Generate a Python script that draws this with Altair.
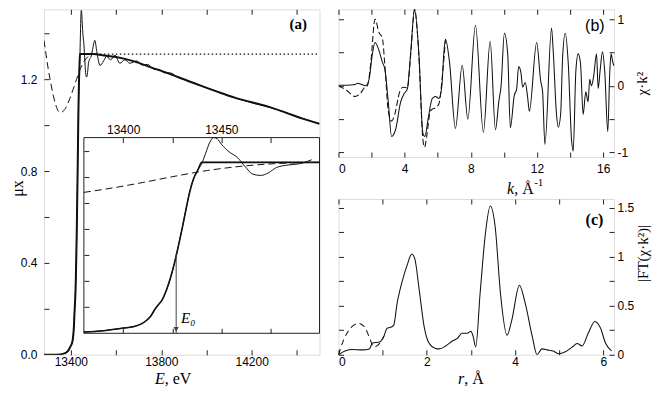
import altair as alt
import pandas as pd

# ---------------- panel (a): absorption mu*x ----------------
E_MU = [13281, 13300, 13330, 13350, 13365, 13380, 13390, 13400, 13405, 13409,
        13412, 13414, 13416, 13418, 13420, 13422, 13424, 13426, 13428, 13430,
        13432, 13434, 13436, 13438, 13440, 13442, 13444, 13446, 13448, 13450,
        13454, 13458, 13462, 13466, 13470, 13474, 13478, 13484, 13490, 13496,
        13506, 13515, 13529, 13545, 13558, 13576, 13595, 13617, 13639, 13661,
        13691, 13715, 13740, 13765, 13790, 13815, 13840, 13870, 13900, 13950,
        14000, 14050, 14100, 14150, 14200, 14250, 14300, 14350, 14400, 14450, 14500]
MU = [0.0, 0.0, 0.0, 0.001, 0.004, 0.01, 0.02, 0.04, 0.05, 0.07,
      0.10, 0.13, 0.18, 0.22, 0.26, 0.33, 0.42, 0.53, 0.66, 0.80,
      0.95, 1.09, 1.19, 1.25, 1.30, 1.38, 1.46, 1.50, 1.49, 1.45,
      1.39, 1.35, 1.28, 1.22, 1.21, 1.23, 1.27, 1.29, 1.30, 1.33,
      1.37, 1.32, 1.26, 1.28, 1.30, 1.285, 1.305, 1.27, 1.285, 1.27,
      1.28, 1.262, 1.265, 1.245, 1.243, 1.228, 1.228, 1.21, 1.20, 1.183,
      1.163, 1.146, 1.128, 1.112, 1.098, 1.086, 1.072, 1.056, 1.038, 1.022, 1.006]
E_MU0 = [13440, 13500, 13540, 13600, 13680, 13760, 13834, 13900, 13980, 14050,
         14125, 14200, 14276, 14350, 14421, 14500]
MU0 = [1.31, 1.31, 1.305, 1.297, 1.278, 1.25, 1.225, 1.200, 1.170, 1.145,
       1.120, 1.100, 1.080, 1.055, 1.030, 1.006]
E_BKG = [13281, 13290, 13300, 13310, 13320, 13330, 13340, 13352, 13365, 13380,
         13395, 13410, 13425, 13443, 13460, 13477, 13498, 13520]
BKG = [1.37, 1.31, 1.245, 1.19, 1.14, 1.10, 1.07, 1.055, 1.06, 1.08,
       1.115, 1.156, 1.20, 1.248, 1.28, 1.30, 1.31, 1.307]
E_STEP = [13440, 14500]
STEP = [1.31, 1.31]
E0 = 13427
E0_TOP = 0.61

A_XDOM = [13281, 14500]
A_YDOM = [0, 1.505]
A_XLAB = [13400, 13800, 14200]
A_XTICK = [13400, 13600, 13800, 14000, 14200, 14400]
A_YLAB = [0.0, 0.4, 0.8, 1.2]
A_YTICK = [0.2, 0.4, 0.6, 0.8, 1.0, 1.2, 1.4]
I_XDOM = [13380, 13500]
I_YDOM = [0, 1.5]
I_XLAB = [13400, 13450]
I_XTICK = [13400, 13425, 13450, 13475]
I_YTICK = [0.2, 0.4, 0.6, 0.8, 1.0, 1.2, 1.4]

# ---------------- panel (b): chi*k^2 ----------------
K = [0.0, 0.5, 1.0, 1.15, 1.4, 1.65, 1.85, 2.05, 2.21, 2.45,
     2.65, 2.81, 3.01, 3.21, 3.45, 3.76, 3.96, 4.16, 4.36, 4.6,
     4.86, 5.1, 5.22, 5.43, 5.67, 5.87, 6.07, 6.25, 6.37, 6.47,
     6.71, 7.07, 7.48, 7.82, 8.28, 8.76, 9.17, 9.49, 9.69, 9.83,
     10.03, 10.23, 10.39, 10.63, 10.77, 10.89, 11.03, 11.13, 11.29, 11.43,
     11.54, 11.98, 12.22, 12.34, 12.48, 12.88, 12.98, 13.18, 13.29, 13.43,
     13.55, 13.71, 13.89, 14.09, 14.19, 14.35, 14.49, 14.63, 14.79, 14.95,
     15.09, 15.19, 15.29, 15.43, 15.6, 15.7, 15.82, 15.96, 16.1, 16.28,
     16.4, 16.48, 16.58, 16.65]
CHI = [0.01, 0.01, 0.02, 0.04, 0.02, 0.0, 0.1, 0.48, 0.65, 0.53,
       0.36, 0.24, -0.24, -0.76, -0.66, -0.24, -0.12, -0.05, 0.48, 1.15,
       0.48, -0.71, -0.76, -0.48, -0.19, -0.16, -0.19, 0.0, 0.5, 0.70,
       0.36, -0.64, 0.31, -0.50, 0.91, -0.70, 0.67, -0.66, -0.24, 0.0,
       0.79, 0.48, -0.63, -0.14, -0.05, 0.29, 0.20, -0.02, 0.05, -0.16,
       -0.38, 0.65, 0.08, -0.09, -0.88, 0.87, 0.53, -0.43, -0.62, -0.43,
       0.43, 0.79, 0.34, -0.81, -0.98, 0.22, 0.48, 0.34, -0.43, -0.09,
       -0.24, 0.10, 0.0, 0.15, 0.48, -0.04, 0.24, 0.51, 0.2, -0.69,
       0.2, 0.48, 0.36, 0.3]
K_D = [0.0, 0.5, 1.0, 1.3, 1.6, 1.75, 1.95, 2.21, 2.45, 2.65,
       2.81, 3.01, 3.21, 3.4, 3.7, 3.9, 4.16, 4.36, 4.6, 4.86,
       5.1, 5.2, 5.35, 5.55, 5.67, 5.87, 6.07, 6.3, 6.47]
CHI_D = [0.0, -0.07, -0.16, -0.12, -0.02, 0.0, 0.34, 1.0, 0.80, 0.72,
         0.29, -0.38, -0.53, -0.43, -0.09, -0.02, -0.03, 0.45, 1.15, 0.45,
         -0.8, -0.92, -0.73, -0.38, -0.35, -0.33, -0.27, 0.2, 0.7]
B_XDOM = [0, 16.66]
B_YDOM = [-1.07, 1.15]
B_XLAB = [0, 4, 8, 12, 16]
B_XTICK = [0, 2, 4, 6, 8, 10, 12, 14, 16]
B_YLAB = [-1, 0, 1]
B_YTICK = [-1, -0.5, 0, 0.5, 1]

# ---------------- panel (c): |FT| ----------------
R = [0.0, 0.16, 0.31, 0.54, 0.7, 0.77, 0.93, 1.03, 1.1, 1.18,
     1.25, 1.33, 1.45, 1.56, 1.66, 1.73, 1.83, 1.94, 2.05, 2.2,
     2.28, 2.43, 2.58, 2.7, 2.8, 2.93, 3.0, 3.05, 3.11, 3.21,
     3.33, 3.44, 3.55, 3.67, 3.82, 3.93, 4.1, 4.23, 4.39, 4.5,
     4.61, 4.73, 4.88, 4.99, 5.14, 5.3, 5.41, 5.52, 5.66, 5.81,
     5.94, 6.05, 6.19]
FT = [0.0, 0.04, 0.054, 0.05, 0.06, 0.12, 0.13, 0.19, 0.27, 0.28,
      0.30, 0.53, 0.76, 0.92, 1.03, 0.98, 0.66, 0.29, 0.12, 0.065,
      0.06, 0.09, 0.14, 0.17, 0.22, 0.22, 0.24, 0.19, 0.08, 0.63,
      1.24, 1.52, 1.31, 0.63, 0.2, 0.36, 0.71, 0.53, 0.19, 0.0,
      0.06, 0.05, 0.035, 0.01, 0.03, 0.08, 0.115, 0.09, 0.22, 0.34,
      0.27, 0.12, 0.04]
R_D = [0.0, 0.12, 0.27, 0.45, 0.58, 0.69, 0.8, 0.9, 1.03]
FT_D = [0.0, 0.155, 0.27, 0.32, 0.29, 0.19, 0.08, 0.10, 0.19]
C_XDOM = [0, 6.245]
C_YDOM = [0, 1.591]
C_XLAB = [0, 2, 4, 6]
C_XTICK = [0, 1, 2, 3, 4, 5, 6]
C_YLAB = [0, 0.5, 1, 1.5]
C_YTICK = [0, 0.25, 0.5, 0.75, 1.0, 1.25, 1.5]

# ---------------- styling / layout ----------------
FRAME = "#222222"
INK = "#111111"
SANS = "Liberation Sans"
SERIF = "Liberation Serif"
A_W, A_H = 276, 346
B_W, B_H = 276, 148
C_W, C_H = 276, 156
V_GAP = 42
H_GAP = 19
INSET_TOP, INSET_BOT = 128.5, 324.5   # inset frame inside panel (a), px from its top
SMOOTH = "monotone"


def scale(dom, rng=None):
    if rng is None:
        return alt.Scale(domain=dom, nice=False, zero=False)
    return alt.Scale(domain=dom, range=rng, nice=False, zero=False)


def tick_axis(orient, values, offset, size=5, z=0):
    return alt.Axis(orient=orient, values=values, labels=False, domain=False, grid=False,
                    ticks=True, tickSize=size, tickColor=FRAME, tickWidth=1,
                    offset=offset, title=None, zindex=z)


def label_axis(orient, values, pad, fmt=None, expr=None, title=None, offset=0, z=0, **kw):
    args = dict(orient=orient, values=values, labels=True, ticks=False, domain=False,
                grid=False, labelPadding=pad, offset=offset, zindex=z,
                labelFont=SANS, labelFontSize=12, labelColor="black", title=title)
    if fmt is not None:
        args["format"] = fmt
    if expr is not None:
        args["labelExpr"] = expr
    args.update(kw)
    return alt.Axis(**args)


def line(df, sx, sy, ax_x=None, ax_y=None, **mk):
    return alt.Chart(df).mark_line(**mk).encode(
        x=alt.X("x:Q", scale=sx, axis=ax_x),
        y=alt.Y("y:Q", scale=sy, axis=ax_y),
        order=alt.Order("x:Q"))


def frame(xs, ys):
    return pd.DataFrame({"x": xs, "y": ys})


def ptext(txt, px, py, **mk):
    return alt.Chart(pd.DataFrame({"t": [txt]})).mark_text(**mk).encode(
        text="t:N", x=alt.value(px), y=alt.value(py))


# ---------------- panel (a) ----------------
sxA, syA = scale(A_XDOM), scale(A_YDOM)
sxI, syI = scale(I_XDOM, [40, A_W]), scale(I_YDOM, [INSET_BOT, INSET_TOP])

df_mu = frame(E_MU, MU)
df_thick = pd.concat([df_mu[df_mu.x < 13440], frame(E_MU0, MU0)], ignore_index=True)
df_bkg = frame(E_BKG, BKG)
df_step = frame(E_STEP, STEP)


def inset(df):
    return df[(df.x >= I_XDOM[0]) & (df.x <= I_XDOM[1])]


df_box = pd.DataFrame({"x": [I_XDOM[0]], "x2": [I_XDOM[1]], "y": [I_YDOM[0]], "y2": [I_YDOM[1]]})
df_arrow = pd.DataFrame({"x": [E0], "y": [E0_TOP], "y2": [0.0]})

a_layers = [
    line(df_mu, sxA, syA,
         label_axis("bottom", A_XLAB, 2, fmt="d"),
         label_axis("left", A_YLAB, 7, fmt=".1f", title="μx", titleFont=SERIF,
                    titleFontSize=16, titleFontWeight="normal", titlePadding=-5,
                    titleY=179, titleColor="black"),
         color=INK, strokeWidth=1, clip=True, interpolate=SMOOTH),
    line(df_thick, sxA, syA,
         tick_axis("bottom", A_XTICK, -5), tick_axis("left", A_YTICK, -5),
         color=INK, strokeWidth=2, clip=True, interpolate=SMOOTH),
    line(df_step, sxA, syA, tick_axis("top", A_XTICK, -5), None,
         color=INK, strokeWidth=1.2, strokeDash=[1.5, 2.5], clip=True),
    line(df_bkg, sxA, syA, color=INK, strokeWidth=1, strokeDash=[7, 4], clip=True,
         interpolate=SMOOTH),
    # inset
    alt.Chart(df_box).mark_rect(fill="white", stroke=FRAME, strokeWidth=1).encode(
        x=alt.X("x:Q", scale=sxI,
                axis=label_axis("top", I_XLAB, 1, fmt="d", offset=-INSET_TOP, z=1)),
        x2="x2:Q",
        y=alt.Y("y:Q", scale=syI, axis=None), y2="y2:Q"),
    line(inset(df_mu), sxI, syI,
         tick_axis("bottom", I_XTICK, INSET_TOP - A_H, z=1), tick_axis("left", I_YTICK, -45, z=1),
         color=INK, strokeWidth=1, interpolate=SMOOTH),
    line(inset(df_thick), sxI, syI, tick_axis("bottom", I_XTICK, INSET_BOT - 5 - A_H, z=1), None,
         color=INK, strokeWidth=1.6, interpolate=SMOOTH),
    line(frame([13440, 13500], STEP), sxI, syI, color=INK, strokeWidth=1.2, strokeDash=[1.5, 2.5]),
    line(inset(df_bkg), sxI, syI, color=INK, strokeWidth=1, strokeDash=[7, 4], interpolate=SMOOTH),
    alt.Chart(df_arrow).mark_rule(color="#444444", strokeWidth=1).encode(
        x=alt.X("x:Q", scale=sxI, axis=None), y=alt.Y("y:Q", scale=syI, axis=None), y2="y2:Q"),
    alt.Chart(pd.DataFrame({"x": [E0], "y": [0.03]})).mark_point(
        shape="triangle-down", filled=True, size=28, color="#444444", opacity=1).encode(
        x=alt.X("x:Q", scale=sxI, axis=None), y=alt.Y("y:Q", scale=syI, axis=None)),
    alt.Chart(pd.DataFrame({"x": [13429.5], "y": [0.115], "t": ["E₀"]})).mark_text(
        font=SERIF, fontStyle="italic", fontSize=15, align="left", baseline="middle", color="black").encode(
        x=alt.X("x:Q", scale=sxI, axis=None), y=alt.Y("y:Q", scale=syI, axis=None), text="t:N"),
    alt.Chart(pd.DataFrame({"x": [14406], "y": [1.44], "t": ["(a)"]})).mark_text(
        font=SERIF, fontWeight="bold", fontSize=15, align="center", baseline="middle", color="black").encode(
        x=alt.X("x:Q", scale=sxA, axis=None), y=alt.Y("y:Q", scale=syA, axis=None), text="t:N"),
    ptext("E", 121, A_H + 24.5, font=SERIF, fontStyle="italic", fontSize=16, align="right", color="black"),
    ptext(", eV", 121, A_H + 24.5, font=SERIF, fontSize=16, align="left", color="black"),
]
panel_a = alt.layer(*a_layers).resolve_scale(x="independent", y="independent").resolve_axis(
    x="independent", y="independent").properties(width=A_W, height=A_H)

# ---------------- panel (b) ----------------
sxB, syB = scale(B_XDOM), scale(B_YDOM)
b_layers = [
    line(frame(K, CHI), sxB, syB,
         label_axis("bottom", B_XLAB, 6, fmt="d"),
         label_axis("right", B_YLAB, 3, expr="datum.value + ''", title="χ·k²",
                    titleFont=SERIF, titleFontSize=15, titleFontWeight="normal",
                    titleAngle=270, titleBaseline="top", titlePadding=7, titleColor="black"),
         color=INK, strokeWidth=1.05, clip=True, interpolate=SMOOTH),
    line(frame(K_D, CHI_D), sxB, syB,
         tick_axis("bottom", B_XTICK, -5), tick_axis("left", B_YTICK, -5),
         color=INK, strokeWidth=1.05, strokeDash=[6, 3], clip=True, interpolate=SMOOTH),
    alt.Chart(pd.DataFrame({"x": [15.5], "y": [0.9], "t": ["(b)"]})).mark_text(
        font=SANS, fontSize=16, align="center", baseline="middle", color="black").encode(
        x=alt.X("x:Q", scale=sxB, axis=tick_axis("top", B_XTICK, -5)),
        y=alt.Y("y:Q", scale=syB, axis=tick_axis("right", B_YTICK, -5)), text="t:N"),
    ptext("k", 176, B_H + 32, font=SERIF, fontStyle="italic", fontSize=16, align="right", color="black"),
    ptext(", Å", 176, B_H + 32, font=SERIF, fontSize=16, align="left", color="black"),
    ptext("-1", 196, B_H + 26, font=SERIF, fontSize=11, align="left", color="black"),
]
panel_b = alt.layer(*b_layers).resolve_scale(x="independent", y="independent").resolve_axis(
    x="independent", y="independent").properties(width=B_W, height=B_H)

# ---------------- panel (c) ----------------
sxC, syC = scale(C_XDOM), scale(C_YDOM)
c_layers = [
    line(frame(R, FT), sxC, syC,
         label_axis("bottom", C_XLAB, 2, fmt="d"),
         label_axis("right", C_YLAB, 3, expr="datum.value + ''", title="|FT(χ·k²)|",
                    titleFont=SERIF, titleFontSize=15, titleFontWeight="normal",
                    titleAngle=270, titleBaseline="top", titlePadding=2, titleY=54, titleColor="black"),
         color=INK, strokeWidth=1.05, clip=True, interpolate=SMOOTH),
    line(frame(R_D, FT_D), sxC, syC,
         tick_axis("bottom", C_XTICK, -5), tick_axis("left", C_YTICK, -5),
         color=INK, strokeWidth=1.05, strokeDash=[6, 4], clip=True, interpolate=SMOOTH),
    alt.Chart(pd.DataFrame({"x": [5.8], "y": [1.38], "t": ["(c)"]})).mark_text(
        font=SERIF, fontWeight="bold", fontSize=16, align="center", baseline="middle", color="black").encode(
        x=alt.X("x:Q", scale=sxC, axis=tick_axis("top", C_XTICK, -5)),
        y=alt.Y("y:Q", scale=syC, axis=tick_axis("right", C_YTICK, -5)), text="t:N"),
    ptext("r", 126, C_H + 24.5, font=SERIF, fontStyle="italic", fontSize=16, align="right", color="black"),
    ptext(", Å", 126, C_H + 24.5, font=SERIF, fontSize=16, align="left", color="black"),
]
panel_c = alt.layer(*c_layers).resolve_scale(x="independent", y="independent").resolve_axis(
    x="independent", y="independent").properties(width=C_W, height=C_H)

right = alt.vconcat(panel_b, panel_c, spacing=V_GAP, bounds="flush")
chart = alt.hconcat(panel_a, right, spacing=H_GAP, bounds="flush").properties(
    padding={"left": 0, "top": 0, "right": 0, "bottom": 0}
).configure_view(stroke=FRAME, strokeWidth=1).configure(background="white")

chart.save("out.html", embed_options={"renderer": "svg", "actions": False})
